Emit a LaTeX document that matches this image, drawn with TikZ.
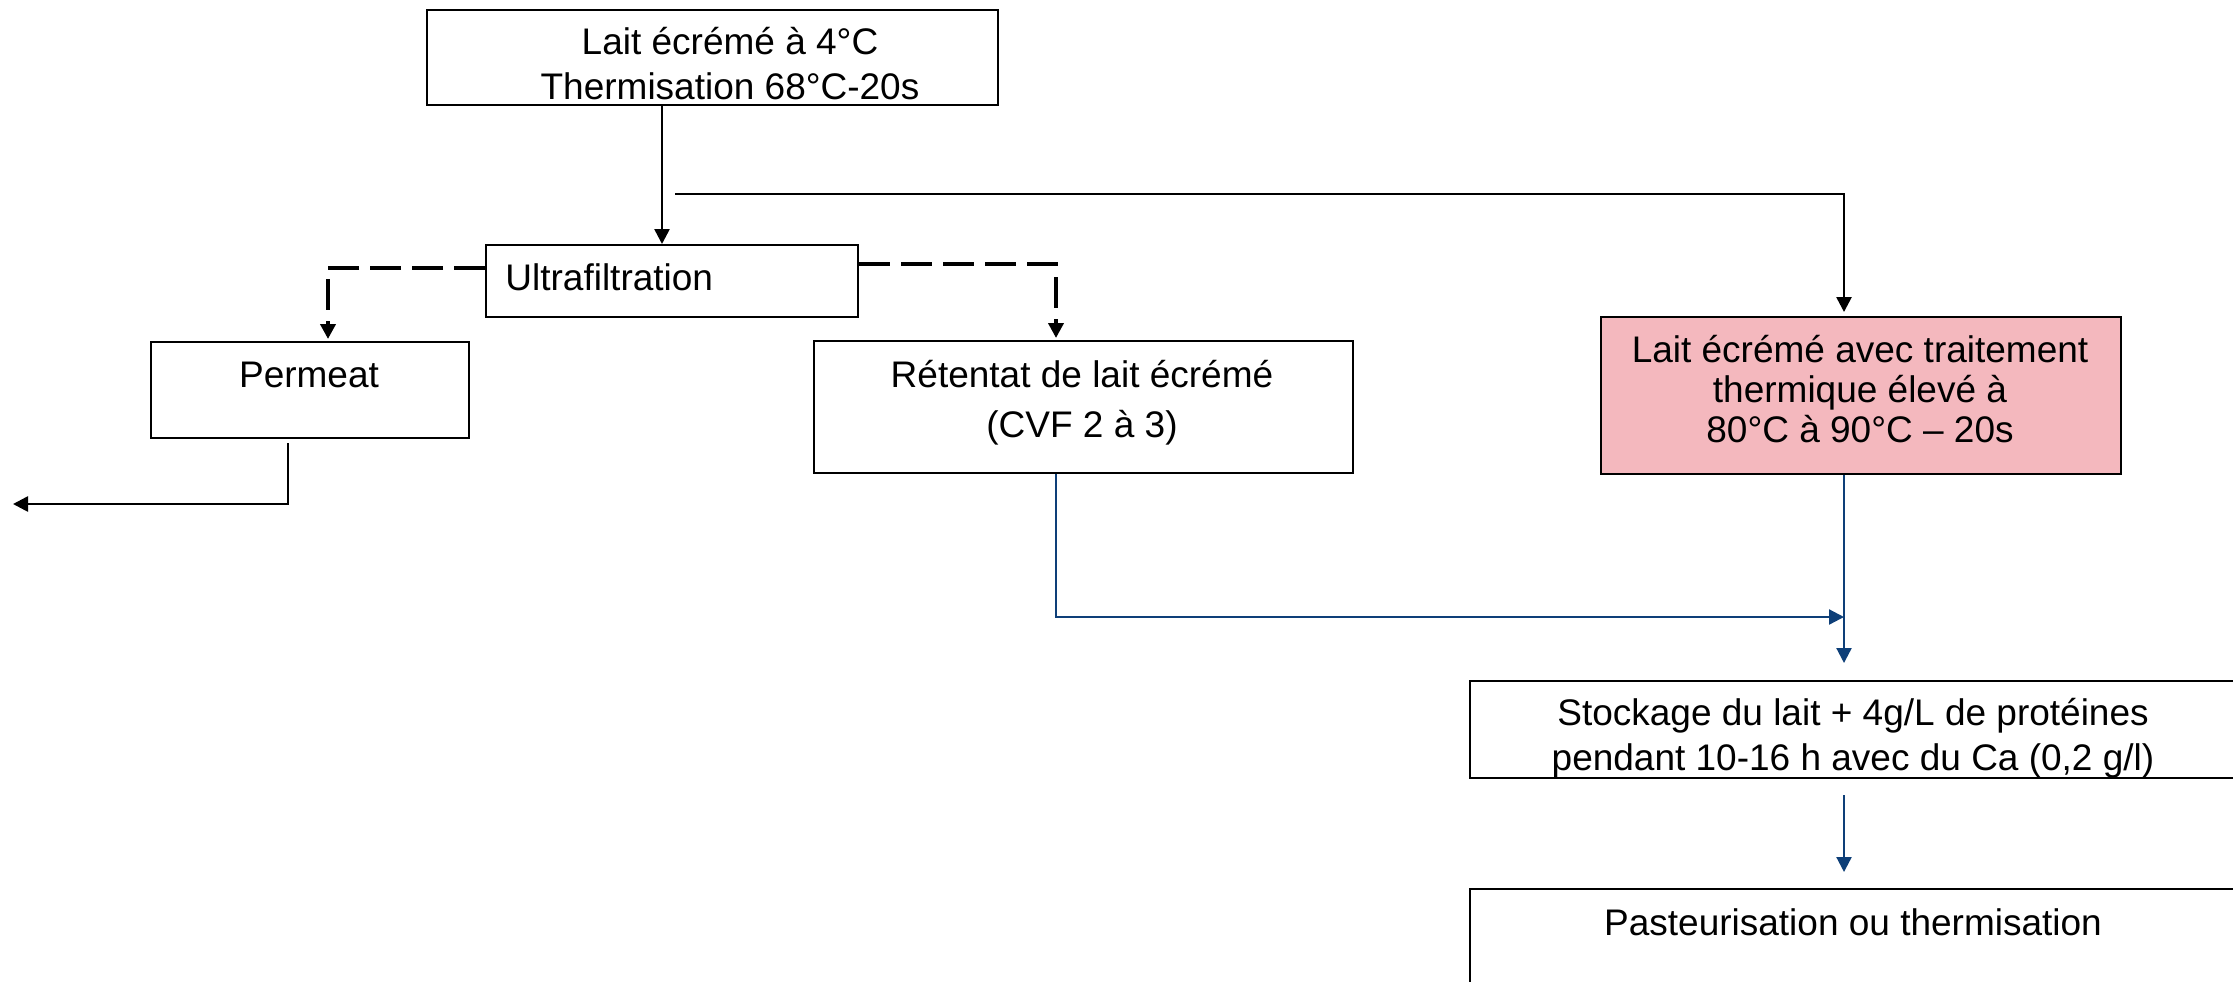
\documentclass[tikz,border=0pt]{standalone}
\usepackage{fontspec}
\setmainfont{Liberation Sans}
\usetikzlibrary{arrows.meta}
\definecolor{flowblue}{HTML}{0E3F78}
\definecolor{pinkfill}{HTML}{F4B8BE}
\begin{document}
\begin{tikzpicture}[x=0.5pt,y=-0.5pt,
  box/.style={draw=black, line width=1.2pt, rectangle, inner sep=0pt, anchor=north west},
  txt/.style={inner sep=0pt, anchor=base, align=center, font=\fontsize{18.5}{22.5}\selectfont},
  solidarrow/.style={draw=black, line width=1.3pt, -{Triangle[length=7.5pt,width=7.5pt]}},
  dasharrow/.style={draw=black, line width=2pt, dash pattern=on 15.5pt off 5.5pt, -{Triangle[length=7.5pt,width=7.5pt]}},
  bluearrow/.style={draw=flowblue, line width=1.1pt, -{Triangle[length=7.5pt,width=7.5pt]}},
]
\clip (0,0) rectangle (2233,981);
\fill[white] (0,0) rectangle (2233,981);

% boxes
\node[box, minimum width=285.5pt, minimum height=47.5pt] (top) at (426,9) {};
\node[box, minimum width=186pt, minimum height=36pt] (ultra) at (485,244) {};
\node[box, minimum width=159pt, minimum height=48pt] (perm) at (150,341) {};
\node[box, minimum width=269.5pt, minimum height=66pt] (ret) at (813,340) {};
\node[box, fill=pinkfill, minimum width=260pt, minimum height=78.5pt] (pink) at (1600,316) {};
\node[box, minimum width=390pt, minimum height=48.5pt] (stock) at (1469,680) {};
\node[box, minimum width=390pt, minimum height=70pt] (past) at (1469,888) {};

% texts (anchor=base refers to the last line of multi-line texts)
\node[txt] (topt) at (730,99) {Lait écrémé à 4°C\\Thermisation 68°C-20s};
\node[txt, anchor=base west] (ultrat) at (505,290) {Ultrafiltration};
\node[txt] (permt) at (309,387) {Permeat};
\node[txt, font=\fontsize{18.5}{25}\selectfont] (rett) at (1082,437) {Rétentat de lait écrémé\\(CVF 2 à 3)};
\node[txt, font=\fontsize{18.5}{20}\selectfont] (pinkt) at (1860,442) {Lait écrémé avec traitement\\thermique élevé à\\ 80°C à 90°C – 20s};
\node[txt] (stockt) at (1853,770) {Stockage du lait + 4g/L de protéines\\pendant 10-16 h avec du Ca (0,2 g/l)};
\node[txt] (pastt) at (1853,935) {Pasteurisation ou thermisation};

% helper coordinates
\coordinate (c1) at (662,0);
\coordinate (b0) at (675,194);
\coordinate (cx) at (1844,0);
\coordinate (dl) at (328,268);
\coordinate (dr) at (1056,264);
\coordinate (pe) at (288,504);
\coordinate (pend) at (13,504);
\coordinate (bj) at (1844,617);

% connectors
\draw[solidarrow] (top.south -| c1) -- (ultra.north -| c1);
\draw[solidarrow] (b0) -| ([yshift=2pt]pink.north -| cx);
\draw[dasharrow] (ultra.west |- dl) -| ([yshift=1pt]perm.north -| dl);
\draw[dasharrow] (ultra.east |- dr) -| ([yshift=1pt]ret.north -| dr);
\draw[solidarrow] ([yshift=-2pt]perm.south -| pe) -- (pe) -- (pend);
\draw[bluearrow] (ret.south -| dr) |- (bj);
\draw[bluearrow] (pink.south -| cx) -- ([yshift=8.5pt]stock.north -| cx);
\draw[bluearrow] ([yshift=-8pt]stock.south -| cx) -- ([yshift=8pt]past.north -| cx);
\end{tikzpicture}
\end{document}
